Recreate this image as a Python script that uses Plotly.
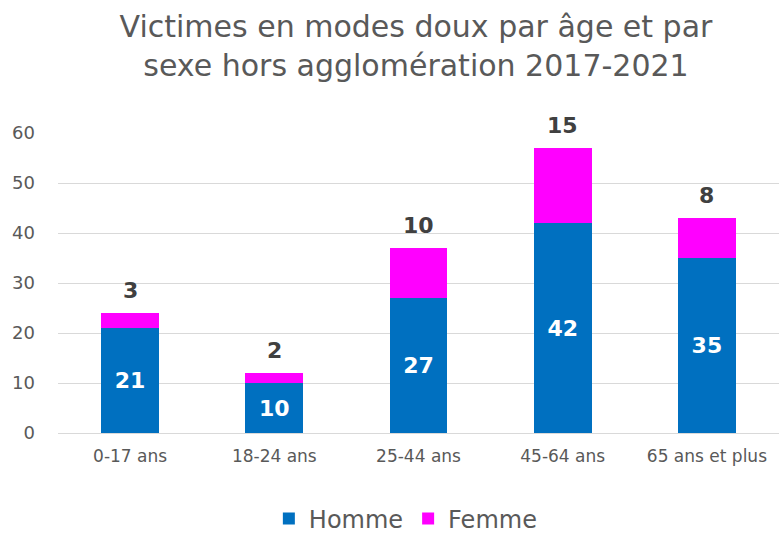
import plotly.graph_objects as go

categories = ["0-17 ans", "18-24 ans", "25-44 ans", "45-64 ans", "65 ans et plus"]
homme = [21, 10, 27, 42, 35]
femme = [3, 2, 10, 15, 8]
y_ticks = [0, 10, 20, 30, 40, 50, 60]

FONT = "DejaVu Sans"
fig = go.Figure()
fig.add_trace(go.Bar(
    x=categories, y=homme, name="Homme", marker_color="#0070C0",
    marker_line_width=0,
    text=[str(v) for v in homme], textposition="inside", insidetextanchor="middle",
    textfont=dict(family=FONT, size=22, color="white", weight="bold"),
    width=0.4,
))
fig.add_trace(go.Bar(
    x=categories, y=femme, name="Femme", marker_color="#FF00FF",
    marker_line_width=0, width=0.4, textposition="none",
))
for c, h, f in zip(categories, homme, femme):
    fig.add_annotation(x=c, y=h + f, text=f"<b>{f}</b>", showarrow=False,
                       yanchor="bottom", yshift=8,
                       font=dict(family=FONT, size=22, color="#404040"))

fig.update_layout(
    width=779, height=535, barmode="stack", bargap=0.6,
    plot_bgcolor="white", paper_bgcolor="white",
    margin=dict(l=58, r=0, t=133, b=102, autoexpand=False),
    title=dict(text="Victimes en modes doux par âge et par<br>sexe hors agglomération 2017-2021",
               x=0.534, xanchor="center", xref="container", y=0.93, yanchor="top", yref="container",
               font=dict(family=FONT, size=30, color="#595959")),
    legend=dict(orientation="h", x=0.521, xanchor="center", xref="container",
                y=0.03, yanchor="middle", yref="container",
                font=dict(family=FONT, size=24, color="#595959"), traceorder="normal"),
    showlegend=True,
)
fig.update_yaxes(range=[0, 60], tickvals=y_ticks, showgrid=True, gridcolor="#D9D9D9",
                 zeroline=False, showline=False, ticks="", automargin=False,
                 ticklabelstandoff=22,
                 tickfont=dict(family=FONT, size=18, color="#595959"))
fig.update_xaxes(showline=True, linecolor="#D9D9D9", ticks="", automargin=False,
                 ticklabelstandoff=8,
                 tickfont=dict(family=FONT, size=17, color="#595959"))
fig.write_html("out.html", config={"displayModeBar": False},
               post_script="document.body.style.margin='0';document.body.style.padding='0';")
